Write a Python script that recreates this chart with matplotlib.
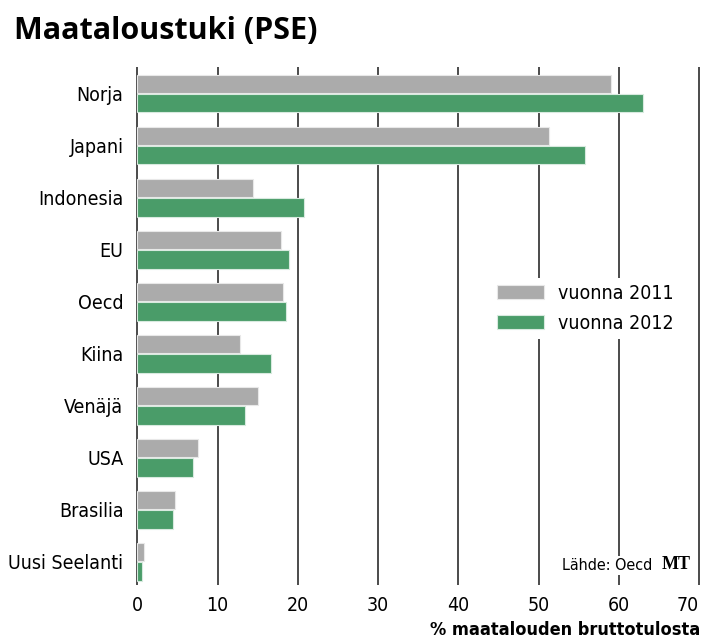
import matplotlib.pyplot as plt
import numpy as np

# Maatalouden tuki (PSE), % maatalouden bruttotulosta
maat = ["Norja", "Japani", "Indonesia", "EU", "Oecd", "Kiina",
        "Venäjä", "USA", "Brasilia", "Uusi Seelanti"]
vuosi_2011 = [59.0, 51.3, 14.4, 17.9, 18.2, 12.8, 15.0, 7.6, 4.7, 0.8]
vuosi_2012 = [63.0, 55.8, 20.8, 18.9, 18.5, 16.7, 13.4, 6.9, 4.4, 0.6]
x_tikit = [0, 10, 20, 30, 40, 50, 60, 70]

kapea = ['DejaVu Sans']
harmaa = '#ababab'
vihrea = '#4a9c69'

fig = plt.figure(figsize=(7.07, 6.41), dpi=100)
ax = fig.add_axes([0.1922, 0.0874, 0.7988, 0.8081])

y = np.arange(len(maat))
korkeus = 0.35
ax.barh(y - 0.19, vuosi_2011, height=korkeus, color=harmaa,
        edgecolor='#e8e8e8', linewidth=0.8, label='vuonna 2011', zorder=3)
ax.barh(y + 0.19, vuosi_2012, height=korkeus, color=vihrea,
        edgecolor='#d8eadf', linewidth=0.8, label='vuonna 2012', zorder=3)

# pystyviivat
for t in x_tikit:
    ax.axvline(t, color='#1a1a1a', linewidth=1.1, zorder=1)

ax.set_xlim(-0.2, 70.2)
ax.set_ylim(len(maat) - 0.55, -0.51)
ax.set_xticks(x_tikit)
ax.set_yticks(y)
ax.set_yticklabels(maat)
for s in ax.spines.values():
    s.set_visible(False)
ax.tick_params(axis='both', length=0)
ax.tick_params(axis='x', pad=8)
ax.tick_params(axis='y', pad=9)
for lab in ax.get_xticklabels() + ax.get_yticklabels():
    lab.set_family(kapea)
    lab.set_stretch('condensed')
    lab.set_fontsize(14)
ax.get_xticklabels()[-1].set_ha('right')

ax.set_xlabel('% maatalouden bruttotulosta', family=kapea, stretch='condensed',
              fontsize=13, fontweight='bold', loc='right', labelpad=4)

leg = ax.legend(loc='upper left', bbox_to_anchor=(0.6815, 0.581),
                bbox_transform=fig.transFigure, frameon=True, fancybox=False,
                edgecolor='none', facecolor='white', framealpha=1,
                prop={'family': kapea, 'stretch': 'condensed', 'size': 14},
                handlelength=2.4, handleheight=0.75, handletextpad=0.7,
                labelspacing=0.55, borderpad=0.3)
leg.set_zorder(5)

fig.text(0.02, 0.952, 'Maataloustuki (PSE)', family=['Open Sans', 'DejaVu Sans'],
         fontsize=22, fontweight='bold', va='center', ha='left')

fig.text(0.922, 0.118, 'Lähde: Oecd', family=kapea, stretch='condensed',
         fontsize=11.5, ha='right', va='center',
         bbox=dict(facecolor='white', edgecolor='none', pad=1.5), zorder=6)
fig.text(0.936, 0.119, 'MT', family=['Liberation Serif', 'DejaVu Serif'],
         fontsize=13, fontweight='bold', ha='left', va='center')

fig.savefig('out.png', dpi=100)
